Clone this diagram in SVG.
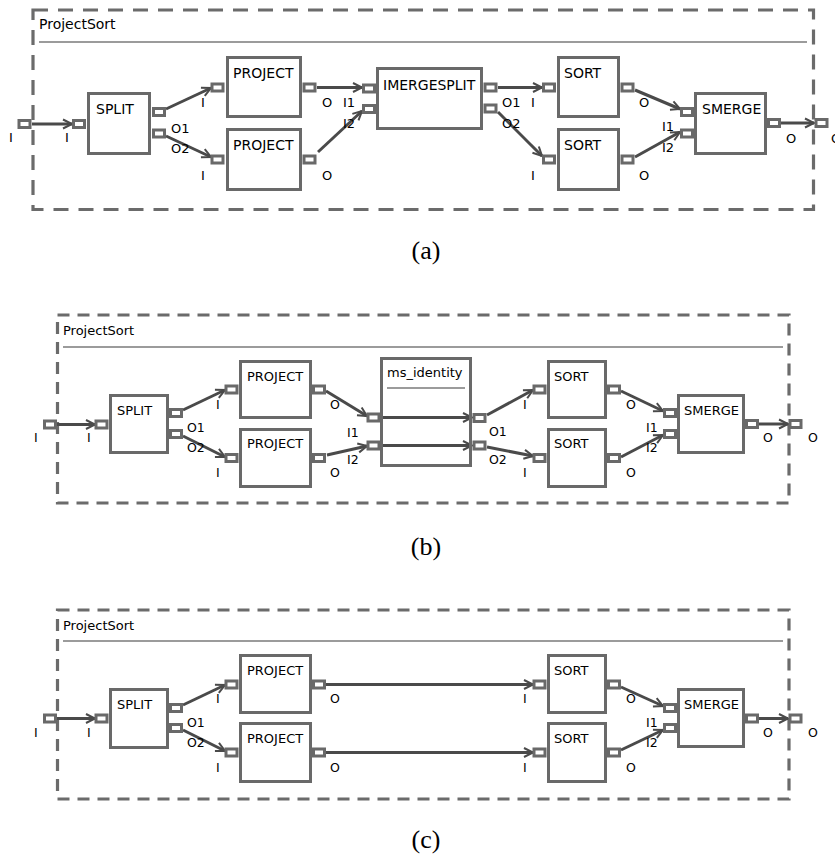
<svg xmlns="http://www.w3.org/2000/svg" width="835" height="860" viewBox="0 0 835 860">
<defs>
<marker id="arr" markerUnits="userSpaceOnUse" markerWidth="12" markerHeight="12" refX="10" refY="6" orient="auto" overflow="visible">
<path d="M1,1.5 L10,6 L1,10.5" fill="none" stroke="#4a4a4a" stroke-width="2"/>
</marker>
</defs>
<style>
.frame{fill:none;stroke:#6b6b6b;stroke-width:3.2}
.fa{stroke-dasharray:15,10}
.fb{stroke-dasharray:12,8}
.sep{stroke:#7a7a7a;stroke-width:1.5}
.box{fill:#fff;stroke:#696969;stroke-width:3}
.port{fill:#fff;stroke:#696969;stroke-width:3}
.c{fill:none;stroke:#4a4a4a;stroke-width:3;marker-end:url(#arr)}
text{font-family:"DejaVu Sans","Noto Sans",sans-serif;fill:#000}
.ta{font-size:14px}
.pa{font-size:13px}
.tb{font-size:13px}
.pb{font-size:12.5px}
.cap{font-family:"Liberation Serif","DejaVu Serif",serif;font-size:26px;text-anchor:middle}
</style>
<rect width="835" height="860" fill="#fff"/>

<!-- ================= Panel (a) ================= -->
<g id="a-frame">
<rect class="frame fa" x="33" y="10" width="780.5" height="199.5"/>
<text class="ta" x="39" y="29">ProjectSort</text>
<line class="sep" x1="39" y1="42" x2="807" y2="42"/>
</g>
<g id="a-connectors">
<path class="c" d="M32,124 L72,124"/>
<path class="c" d="M166,109 L211,88"/>
<path class="c" d="M166,136 L211,157"/>
<path class="c" d="M317,87.5 L362,87.5"/>
<path class="c" d="M318,152 L362,111"/>
<path class="c" d="M498,87.5 L542,87.5"/>
<path class="c" d="M498,112 L542,156"/>
<path class="c" d="M635,90 L680,109"/>
<path class="c" d="M635,157 L680,132"/>
<path class="c" d="M781,123 L814,123"/>
</g>
<g id="a-in">
<rect class="port" x="19" y="120.5" width="11" height="7"/>
<text class="pa" x="9" y="142">I</text>
</g>
<g id="a-split">
<rect class="box" x="88.5" y="93.5" width="61" height="60"/>
<text class="ta" x="96" y="114">SPLIT</text>
<rect class="port" x="73.5" y="120.5" width="11" height="7"/>
<text class="pa" x="65" y="142">I</text>
<rect class="port" x="153.5" y="108.5" width="11" height="7"/>
<rect class="port" x="153.5" y="130" width="11" height="7"/>
<text class="pa" x="171" y="133">O1</text>
<text class="pa" x="171" y="153">O2</text>
</g>
<g id="a-project1">
<rect class="box" x="227.5" y="57.5" width="73" height="59"/>
<text class="ta" x="233" y="78">PROJECT</text>
<rect class="port" x="212" y="84" width="11" height="7"/>
<rect class="port" x="304" y="84" width="11" height="7"/>
<text class="pa" x="201" y="107">I</text>
<text class="pa" x="322" y="107">O</text>
</g>
<g id="a-project2">
<rect class="box" x="227.5" y="129.5" width="73" height="60"/>
<text class="ta" x="233" y="150">PROJECT</text>
<rect class="port" x="212" y="156" width="11" height="7"/>
<rect class="port" x="304" y="156" width="11" height="7"/>
<text class="pa" x="201" y="180">I</text>
<text class="pa" x="322" y="180">O</text>
</g>
<g id="a-imergesplit">
<rect class="box" x="377.5" y="68.5" width="104" height="60"/>
<text class="ta" x="383" y="90">IMERGESPLIT</text>
<rect class="port" x="363.5" y="85" width="11" height="7"/>
<rect class="port" x="363.5" y="105.5" width="11" height="7"/>
<text class="pa" x="343" y="107">I1</text>
<text class="pa" x="343" y="128">I2</text>
<rect class="port" x="485" y="84" width="11" height="7"/>
<rect class="port" x="485" y="105" width="11" height="7"/>
<text class="pa" x="502" y="107">O1</text>
<text class="pa" x="502" y="128">O2</text>
</g>
<g id="a-sort1">
<rect class="box" x="558.5" y="57.5" width="60" height="59"/>
<text class="ta" x="564" y="78">SORT</text>
<rect class="port" x="543.5" y="84" width="11" height="7"/>
<rect class="port" x="622" y="84" width="11" height="7"/>
<text class="pa" x="531" y="107">I</text>
<text class="pa" x="639" y="107">O</text>
</g>
<g id="a-sort2">
<rect class="box" x="558.5" y="129.5" width="60" height="60"/>
<text class="ta" x="564" y="150">SORT</text>
<rect class="port" x="543.5" y="156" width="11" height="7"/>
<rect class="port" x="622" y="156" width="11" height="7"/>
<text class="pa" x="531" y="180">I</text>
<text class="pa" x="639" y="180">O</text>
</g>
<g id="a-smerge">
<rect class="box" x="695.5" y="93.5" width="70" height="60"/>
<text class="ta" x="702" y="114">SMERGE</text>
<rect class="port" x="681.5" y="108.5" width="11" height="7"/>
<rect class="port" x="681.5" y="130" width="11" height="7"/>
<text class="pa" x="662" y="131">I1</text>
<text class="pa" x="662" y="152">I2</text>
<rect class="port" x="768.5" y="119.5" width="11" height="7"/>
<text class="pa" x="786" y="143">O</text>
</g>
<g id="a-out">
<rect class="port" x="816" y="119.5" width="11" height="7"/>
<text class="pa" x="831" y="143">O</text>
</g>
<text class="cap" x="426" y="259">(a)</text>

<!-- ================= Panel (b) ================= -->
<g id="b-frame">
<rect class="frame fb" x="57.5" y="315" width="731.5" height="188"/>
<text class="tb" x="63" y="335">ProjectSort</text>
<line class="sep" x1="63" y1="347" x2="783" y2="347"/>
</g>
<g id="b-connectors">
<path class="c" d="M57,424.5 L95,424.5"/>
<path class="c" d="M183,410 L225,390"/>
<path class="c" d="M183,436 L225,457"/>
<path class="c" d="M326,391 L367,416"/>
<path class="c" d="M327,455 L367,446"/>
<path class="c" d="M380,417.5 L472,417.5"/>
<path class="c" d="M380,445.5 L472,445.5"/>
<path class="c" d="M487,415 L533,390"/>
<path class="c" d="M487,447 L533,456"/>
<path class="c" d="M621,391 L663,411"/>
<path class="c" d="M621,457 L663,435"/>
<path class="c" d="M759,424 L788,424"/>
</g>
<g id="b-in">
<rect class="port" x="44.5" y="421" width="11" height="7"/>
<text class="pb" x="34" y="442">I</text>
</g>
<g id="b-split">
<rect class="box" x="110.5" y="395.5" width="57" height="57"/>
<text class="tb" x="117" y="415">SPLIT</text>
<rect class="port" x="96" y="421" width="11" height="7"/>
<text class="pb" x="87" y="442">I</text>
<rect class="port" x="170.5" y="409.5" width="11" height="7"/>
<rect class="port" x="170.5" y="430.5" width="11" height="7"/>
<text class="pb" x="187" y="432">O1</text>
<text class="pb" x="187" y="452">O2</text>
</g>
<g id="b-project1">
<rect class="box" x="240.5" y="361.5" width="70" height="56"/>
<text class="tb" x="247" y="381">PROJECT</text>
<rect class="port" x="226" y="386" width="11" height="7"/>
<rect class="port" x="313.5" y="386" width="11" height="7"/>
<text class="pb" x="216" y="409">I</text>
<text class="pb" x="330" y="409">O</text>
</g>
<g id="b-project2">
<rect class="box" x="240.5" y="429.5" width="70" height="57"/>
<text class="tb" x="247" y="448">PROJECT</text>
<rect class="port" x="226" y="454.5" width="11" height="7"/>
<rect class="port" x="313.5" y="454.5" width="11" height="7"/>
<text class="pb" x="216" y="477">I</text>
<text class="pb" x="330" y="477">O</text>
</g>
<g id="b-ms_identity">
<rect class="box" x="381.5" y="358.5" width="89" height="107" style="fill:none"/>
<text class="tb" x="387" y="377">ms_identity</text>
<line class="sep" x1="387" y1="388" x2="465" y2="388"/>
<rect class="port" x="368" y="414" width="11" height="7"/>
<rect class="port" x="368" y="442" width="11" height="7"/>
<text class="pb" x="347" y="437">I1</text>
<text class="pb" x="347" y="464">I2</text>
<rect class="port" x="474" y="414.5" width="11" height="7"/>
<rect class="port" x="474" y="442" width="11" height="7"/>
<text class="pb" x="489" y="436">O1</text>
<text class="pb" x="489" y="464">O2</text>
</g>
<g id="b-sort1">
<rect class="box" x="548.5" y="361.5" width="57" height="56"/>
<text class="tb" x="554" y="381">SORT</text>
<rect class="port" x="534" y="386" width="11" height="7"/>
<rect class="port" x="608.5" y="386" width="11" height="7"/>
<text class="pb" x="523" y="409">I</text>
<text class="pb" x="626" y="409">O</text>
</g>
<g id="b-sort2">
<rect class="box" x="548.5" y="429.5" width="57" height="57"/>
<text class="tb" x="554" y="448">SORT</text>
<rect class="port" x="534" y="454.5" width="11" height="7"/>
<rect class="port" x="608.5" y="454.5" width="11" height="7"/>
<text class="pb" x="523" y="477">I</text>
<text class="pb" x="626" y="477">O</text>
</g>
<g id="b-smerge">
<rect class="box" x="678.5" y="395.5" width="65" height="57"/>
<text class="tb" x="684" y="415">SMERGE</text>
<rect class="port" x="664.5" y="409.5" width="11" height="7"/>
<rect class="port" x="664.5" y="430.5" width="11" height="7"/>
<text class="pb" x="646" y="432">I1</text>
<text class="pb" x="646" y="452">I2</text>
<rect class="port" x="746.5" y="420.5" width="11" height="7"/>
<text class="pb" x="763" y="442">O</text>
</g>
<g id="b-out">
<rect class="port" x="790" y="420.5" width="11" height="7"/>
<text class="pb" x="808" y="442">O</text>
</g>
<text class="cap" x="426" y="555">(b)</text>

<!-- ================= Panel (c) ================= -->
<g id="c-frame">
<rect class="frame fb" x="57.5" y="610" width="731.5" height="189"/>
<text class="tb" x="63" y="630">ProjectSort</text>
<line class="sep" x1="63" y1="641" x2="783" y2="641"/>
</g>
<g id="c-connectors">
<path class="c" d="M57,718.5 L95,718.5"/>
<path class="c" d="M183,705 L225,685"/>
<path class="c" d="M183,730 L225,751"/>
<path class="c" d="M326,684.5 L533,684.5"/>
<path class="c" d="M326,752.5 L533,752.5"/>
<path class="c" d="M621,687 L663,706"/>
<path class="c" d="M621,750 L663,730"/>
<path class="c" d="M759,718.5 L788,718.5"/>
</g>
<g id="c-in">
<rect class="port" x="44.5" y="715" width="11" height="7"/>
<text class="pb" x="34" y="737">I</text>
</g>
<g id="c-split">
<rect class="box" x="110.5" y="689.5" width="57" height="58"/>
<text class="tb" x="117" y="709">SPLIT</text>
<rect class="port" x="96" y="715" width="11" height="7"/>
<text class="pb" x="87" y="737">I</text>
<rect class="port" x="170.5" y="704.5" width="11" height="7"/>
<rect class="port" x="170.5" y="724.5" width="11" height="7"/>
<text class="pb" x="187" y="727">O1</text>
<text class="pb" x="187" y="747">O2</text>
</g>
<g id="c-project1">
<rect class="box" x="240.5" y="655.5" width="70" height="57"/>
<text class="tb" x="247" y="675">PROJECT</text>
<rect class="port" x="226" y="681" width="11" height="7"/>
<rect class="port" x="313.5" y="681" width="11" height="7"/>
<text class="pb" x="216" y="703">I</text>
<text class="pb" x="330" y="703">O</text>
</g>
<g id="c-project2">
<rect class="box" x="240.5" y="723.5" width="70" height="58"/>
<text class="tb" x="247" y="743">PROJECT</text>
<rect class="port" x="226" y="749" width="11" height="7"/>
<rect class="port" x="313.5" y="749" width="11" height="7"/>
<text class="pb" x="216" y="772">I</text>
<text class="pb" x="330" y="772">O</text>
</g>
<g id="c-sort1">
<rect class="box" x="548.5" y="655.5" width="57" height="57"/>
<text class="tb" x="554" y="675">SORT</text>
<rect class="port" x="534" y="681" width="11" height="7"/>
<rect class="port" x="608.5" y="681" width="11" height="7"/>
<text class="pb" x="523" y="703">I</text>
<text class="pb" x="626" y="703">O</text>
</g>
<g id="c-sort2">
<rect class="box" x="548.5" y="723.5" width="57" height="58"/>
<text class="tb" x="554" y="743">SORT</text>
<rect class="port" x="534" y="749" width="11" height="7"/>
<rect class="port" x="608.5" y="749" width="11" height="7"/>
<text class="pb" x="523" y="772">I</text>
<text class="pb" x="626" y="772">O</text>
</g>
<g id="c-smerge">
<rect class="box" x="678.5" y="689.5" width="65" height="57"/>
<text class="tb" x="684" y="709">SMERGE</text>
<rect class="port" x="664.5" y="704.5" width="11" height="7"/>
<rect class="port" x="664.5" y="724.5" width="11" height="7"/>
<text class="pb" x="646" y="727">I1</text>
<text class="pb" x="646" y="747">I2</text>
<rect class="port" x="746.5" y="715" width="11" height="7"/>
<text class="pb" x="763" y="737">O</text>
</g>
<g id="c-out">
<rect class="port" x="790" y="715" width="11" height="7"/>
<text class="pb" x="808" y="737">O</text>
</g>
<text class="cap" x="426" y="848">(c)</text>
</svg>
